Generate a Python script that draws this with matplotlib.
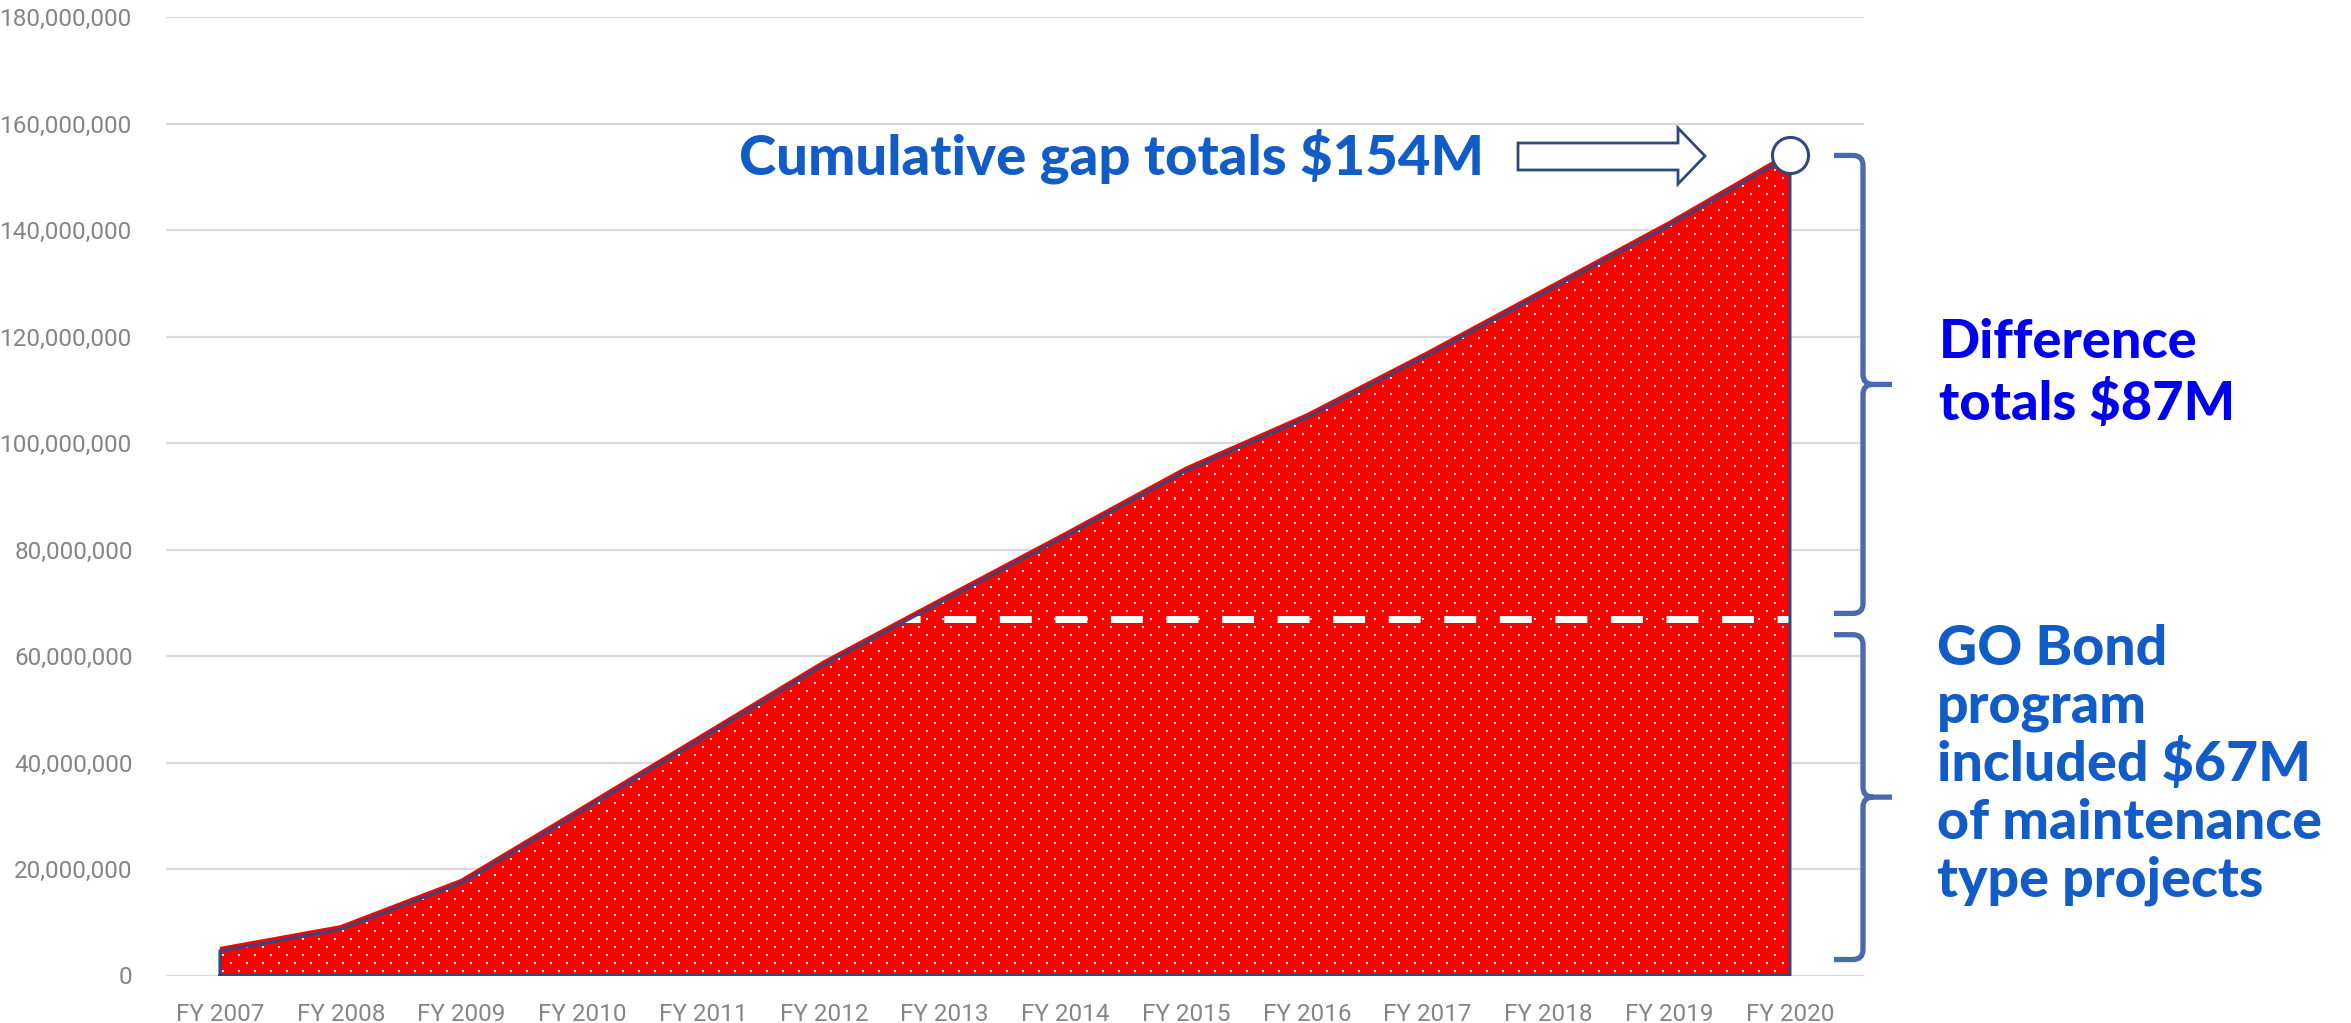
import numpy as np
import matplotlib
matplotlib.use('Agg')
import matplotlib.pyplot as plt
import matplotlib.patches as mpatches
import matplotlib.transforms as mtransforms
from matplotlib.path import Path
from matplotlib.ticker import FuncFormatter

# cumulative maintenance funding gap by fiscal year (dollars)
years = ['FY 2007', 'FY 2008', 'FY 2009', 'FY 2010', 'FY 2011', 'FY 2012', 'FY 2013',
         'FY 2014', 'FY 2015', 'FY 2016', 'FY 2017', 'FY 2018', 'FY 2019', 'FY 2020']
gap_cumulative = [4.6e6, 8.7e6, 17.4e6, 31.0e6, 44.7e6, 58.4e6, 70.5e6,
                  82.5e6, 94.8e6, 104.8e6, 116.5e6, 128.7e6, 140.9e6, 154.0e6]
go_bond = 67e6
y_ticks = [0, 20e6, 40e6, 60e6, 80e6, 100e6, 120e6, 140e6, 160e6, 180e6]

title_text = 'Cumulative gap totals $154M'
diff_lines = ['Difference', 'totals $87M']
bond_lines = ['GO Bond', 'program', 'included $67M', 'of maintenance', 'type projects']

RED = '#ff0000'
NAVY = '#30497c'
BRACE = '#4a69ae'
W, H = 2351, 1023

fig = plt.figure(figsize=(W / 100, H / 100), dpi=100)
ax_l, ax_r, ax_t, ax_b = 166, 1864, 17, 975.5
ax = fig.add_axes([ax_l / W, 1 - ax_b / H, (ax_r - ax_l) / W, (ax_b - ax_t) / H])

# pixel coords measured from the top-left corner of the image
px = mtransforms.Affine2D().scale(1 / W, -1 / H).translate(0, 1) + fig.transFigure

xs = np.arange(len(years))
gap = np.array(gap_cumulative)
ax.set_xlim(-0.447, 13.613)
ax.set_ylim(0, 180e6)

for s in ax.spines.values():
    s.set_visible(False)
ax.set_yticks(y_ticks)
ax.yaxis.set_major_formatter(FuncFormatter(lambda v, p: '{:,.0f}'.format(v)))
ax.set_xticks(xs)
ax.set_xticklabels(years)
ax.tick_params(length=0, labelsize=17.5, labelcolor='#858585')
ax.tick_params(axis='y', pad=24)
ax.tick_params(axis='x', pad=20)
for lab in ax.get_xticklabels() + ax.get_yticklabels():
    lab.set_family('Roboto')
    lab.set_fontweight('normal')
ax.grid(axis='y', color='#d9d9d9', lw=1.6)
ax.set_axisbelow(True)

# red area
verts = [(0, 0)] + list(zip(xs, gap)) + [(xs[-1], 0)]
poly = mpatches.Polygon(verts, closed=True, fc=RED, ec='none', zorder=2)
ax.add_patch(poly)

# white dot texture clipped to the area
hp, wp = int(round(ax_b - ax_t)), int(round(ax_r - ax_l))
tex = np.zeros((hp, wp, 4))
rr, cc = np.mgrid[0:hp, 0:wp]
dots = ((rr % 16 < 2) & (cc % 16 < 2)) | ((rr % 16 >= 8) & (rr % 16 < 10) & (cc % 16 >= 8) & (cc % 16 < 10))
tex[dots] = [1, 1, 1, 1]
xl, yl = ax.get_xlim(), ax.get_ylim()
im = ax.imshow(tex, extent=(xl[0], xl[1], yl[0], yl[1]), aspect='auto',
               interpolation='nearest', zorder=3)
im.set_clip_path(poly)
ax.set_xlim(xl)
ax.set_ylim(yl)

# GO bond level as a white dashed line inside the area
dl = ax.axhline(go_bond, color='white', lw=5, ls=(0, (4.6, 3.4)), zorder=4)
dl.set_clip_path(poly)

# red edge just above the navy outline
halo = mtransforms.offset_copy(ax.transData, fig=fig, x=0, y=2, units='dots')
ax.plot(xs, gap, color=RED, lw=3, transform=halo, zorder=4, solid_capstyle='butt')
ox = np.concatenate([[0], xs, [xs[-1], 0]])
oy = np.concatenate([[0], gap, [0, 0]])
ax.plot(ox, oy, color=NAVY, lw=2.2, zorder=5, solid_joinstyle='miter')

ax.plot(xs[-1], gap[-1], 'o', ms=26, mfc='white', mec=NAVY, mew=2.2, zorder=6, clip_on=False)

# block arrow pointing at the final total
arrow = mpatches.Polygon([(1518, 143), (1678, 143), (1678, 128), (1705, 156),
                          (1678, 184), (1678, 170), (1518, 170)],
                         closed=True, fc='white', ec=NAVY, lw=2, transform=px)
fig.add_artist(arrow)


def brace(top, bot, xa=1834, xv=1863, xt=1892, r=10):
    ppu = (ax_b - ax_t) / 180e6
    ry = r / ppu
    mid = (top + bot) / 2
    v = [(xa, top), (xv - r, top), (xv, top), (xv, top - ry),
         (xv, mid + ry), (xv, mid), (xv + r, mid), (xt, mid),
         (xv + r, mid), (xv, mid), (xv, mid - ry),
         (xv, bot + ry), (xv, bot), (xv - r, bot), (xa, bot)]
    c = [Path.MOVETO, Path.LINETO, Path.CURVE3, Path.CURVE3,
         Path.LINETO, Path.CURVE3, Path.CURVE3, Path.LINETO,
         Path.MOVETO, Path.CURVE3, Path.CURVE3,
         Path.LINETO, Path.CURVE3, Path.CURVE3, Path.LINETO]
    tr = mtransforms.blended_transform_factory(px, ax.transData)
    p = mpatches.PathPatch(Path(v, c), fc='none', ec=BRACE, lw=3.8,
                           transform=tr, clip_on=False, capstyle='butt')
    fig.add_artist(p)


brace(gap[-1], go_bond + 1e6)
brace(go_bond - 3e6, 3e6)

font = dict(family='Lato', weight='black', va='baseline', transform=px)
fig.text(739, 175, title_text, fontsize=40.5, color='#115cc6', **font)
for i, t in enumerate(diff_lines):
    fig.text(1939, 358 + 62 * i, t, fontsize=39, color='#0000f0', **font)
for i, t in enumerate(bond_lines):
    fig.text(1937, 665 + 58 * i, t, fontsize=40, color='#115cc6', **font)

fig.savefig('out.png', dpi=100)
